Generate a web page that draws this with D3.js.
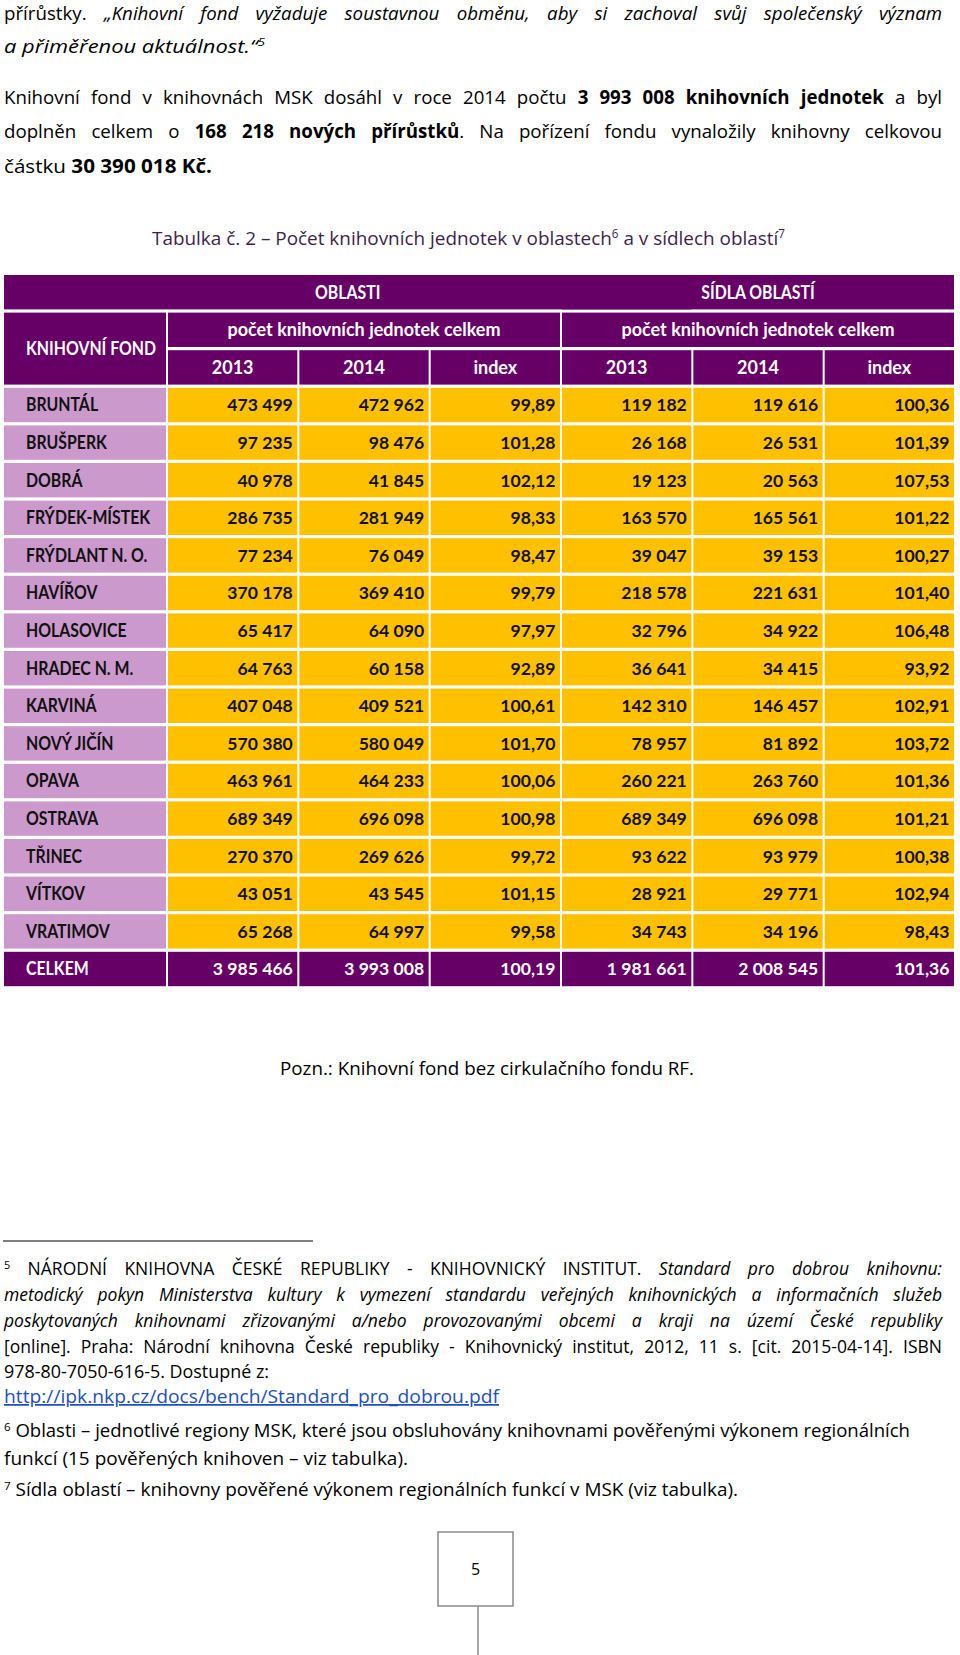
<!DOCTYPE html>
<html><head><meta charset="utf-8">
<script src="https://cdn.jsdelivr.net/npm/d3@7"></script>
<style>body{margin:0;background:#fff}svg{display:block}</style>
</head><body>
<svg id="page" width="960" height="1655"></svg>
<script>
// ---------- DATA ----------
const regions = ["BRUNTÁL","BRUŠPERK","DOBRÁ","FRÝDEK-MÍSTEK","FRÝDLANT N. O.","HAVÍŘOV","HOLASOVICE","HRADEC N. M.","KARVINÁ","NOVÝ JIČÍN","OPAVA","OSTRAVA","TŘINEC","VÍTKOV","VRATIMOV"];
const oblasti2013 = [473499,97235,40978,286735,77234,370178,65417,64763,407048,570380,463961,689349,270370,43051,65268];
const oblasti2014 = [472962,98476,41845,281949,76049,369410,64090,60158,409521,580049,464233,696098,269626,43545,64997];
const oblastiIndex = [99.89,101.28,102.12,98.33,98.47,99.79,97.97,92.89,100.61,101.70,100.06,100.98,99.72,101.15,99.58];
const sidla2013 = [119182,26168,19123,163570,39047,218578,32796,36641,142310,78957,260221,689349,93622,28921,34743];
const sidla2014 = [119616,26531,20563,165561,39153,221631,34922,34415,146457,81892,263760,696098,93979,29771,34196];
const sidlaIndex = [100.36,101.39,107.53,101.22,100.27,101.40,106.48,93.92,102.91,103.72,101.36,101.21,100.38,102.94,98.43];
const totalLabel = "CELKEM";
const totalValues = [3985466,3993008,100.19,1981661,2008545,101.36];
const groupHeaders = ["OBLASTI","SÍDLA OBLASTÍ"];
const subHeader = "počet knihovních jednotek celkem";
const yearHeaders = ["2013","2014","index","2013","2014","index"];
const rowHeader = "KNIHOVNÍ FOND";

// ---------- STYLE ----------
const FONT = "'Open Sans', 'Noto Sans', sans-serif";
const TFONT = "Lato, 'Open Sans', sans-serif";
const PURPLE = "#660066", LILAC = "#cc99cc", GOLD = "#ffc000";
const svg = d3.select("#page");
const loc = d3.formatLocale({decimal:",", thousands:" ", grouping:[3], currency:["",""]});
const fInt = loc.format(",d"), fIdx = loc.format(",.2f");

// text line helper (segments: {t, s}) s: i=italic b=bold ^=superscript u=link
function line(x, y, segs, o) {
  const t = svg.append("text").attr("x", x).attr("y", y)
    .attr("font-family", FONT).attr("fill", o.fill || "#000")
    .attr("font-size", o.size).style("white-space", "pre");
  if (o.anchor) t.attr("text-anchor", o.anchor);
  let shifted = 0;
  segs.forEach(s => {
    const ts = t.append("tspan").text(s.t);
    const st = s.s || "";
    if (st.includes("i")) ts.attr("font-style", "italic");
    if (st.includes("b")) ts.attr("font-weight", "bold");
    if (st.includes("u")) ts.attr("fill", "#1f4fbf").attr("text-decoration", "underline");
    if (st.includes("^")) {
      const d = -o.size * 0.36;
      ts.attr("font-size", o.size * 0.62).attr("dy", d - shifted); shifted = d;
    } else if (shifted) { ts.attr("dy", -shifted); shifted = 0; }
  });
  if (o.width) t.attr("textLength", o.width).attr("lengthAdjust", "spacingAndGlyphs");
  if (o.justify) {
    const w = t.node().getComputedTextLength();
    const n = segs.map(s => s.t).join("").split(" ").length - 1;
    if (n > 0) t.attr("word-spacing", (o.justify - x - w) / n);
  }
  return t;
}

// ---------- BODY TEXT ----------
const BS = 18.7, R = 942;
line(4, 20, [{t:"přírůstky. "},{t:"„Knihovní fond vyžaduje soustavnou obměnu, aby si zachoval svůj společenský význam", s:"i"}], {size:BS, justify:R});
line(4, 53, [{t:"a přiměřenou aktuálnost.“", s:"i"},{t:"5", s:"i^"}], {size:BS, width:261});
line(4, 104, [{t:"Knihovní fond v knihovnách MSK dosáhl v roce 2014 počtu "},{t:"3 993 008 knihovních jednotek", s:"b"},{t:" a byl"}], {size:BS, justify:R});
line(4, 138, [{t:"doplněn celkem o "},{t:"168 218 nových přírůstků", s:"b"},{t:". Na pořízení fondu vynaložily knihovny celkovou"}], {size:BS, justify:R});
line(4, 173, [{t:"částku "},{t:"30 390 018 Kč.", s:"b"}], {size:BS, width:208});

// title
line(152, 245, [{t:"Tabulka č. 2 – Počet knihovních jednotek v oblastech"},{t:"6", s:"^"},{t:" a v sídlech oblastí"},{t:"7", s:"^"}], {size:19, width:633, fill:"#3e1f4c"});

// ---------- TABLE ----------
const nRows = 19;
const y = d3.scaleBand().domain(d3.range(nRows)).range([275, 275 + nRows * 37.6]);
const x = d3.scaleBand().domain(d3.range(6)).range([168, 956]);
const GAP = 2, VGAP = 3.2;
const X0 = 4;
const cellH = y.bandwidth() - VGAP, cellW = x.bandwidth() - GAP;
const TS = 18, NS = 17.6, CAPSQ = 0.88;
const tbl = svg.append("g");

function rect(x0, y0, w, h, fill) {
  tbl.append("rect").attr("x", x0).attr("y", y0).attr("width", w).attr("height", h).attr("fill", fill);
}
function txt(xp, yp, s, fill, anchor, size, squeeze) {
  const t = tbl.append("text").attr("x", xp).attr("y", yp).attr("font-family", TFONT).attr("font-size", size || TS)
    .attr("font-weight", "bold").attr("fill", fill).attr("text-anchor", anchor).text(s);
  if (squeeze) t.attr("textLength", t.node().getComputedTextLength() * squeeze).attr("lengthAdjust", "spacingAndGlyphs");
}
const mid = i => y(i) + cellH / 2 + 6.3;

// header row 0
rect(X0, y(0), x(3) + cellW - X0, cellH, PURPLE);
txt((X0 + x(3) + cellW) / 2, mid(0), groupHeaders[0], "#fff", "middle", TS, CAPSQ);
rect(x(3), y(0), x(5) + cellW - x(3), cellH, PURPLE);
txt((x(3) + x(5) + cellW) / 2, mid(0), groupHeaders[1], "#fff", "middle", TS, CAPSQ);
// row header
rect(X0, y(1), x(0) - GAP - X0, y(2) + cellH - y(1), PURPLE);
txt(26, (y(1) + y(2) + cellH) / 2 + 6.3, rowHeader, "#fff", "start", TS, CAPSQ);
// sub headers
[0, 3].forEach(c => {
  rect(x(c), y(1), x(c + 2) + cellW - x(c), cellH, PURPLE);
  txt((x(c) + x(c + 2) + cellW) / 2, mid(1), subHeader, "#fff", "middle");
});
yearHeaders.forEach((h, c) => {
  rect(x(c), y(2), cellW, cellH, PURPLE);
  txt(x(c) + cellW / 2, mid(2), h, "#fff", "middle");
});

// data rows
const cols = [oblasti2013, oblasti2014, oblastiIndex, sidla2013, sidla2014, sidlaIndex];
const fmts = [fInt, fInt, fIdx, fInt, fInt, fIdx];
regions.forEach((r, i) => {
  const ri = i + 3;
  rect(X0, y(ri), x(0) - GAP - X0, cellH, LILAC);
  txt(26, mid(ri), r, "#111", "start", TS, CAPSQ);
  cols.forEach((col, c) => {
    rect(x(c), y(ri), cellW, cellH, GOLD);
    txt(x(c) + cellW - 4.5, mid(ri), fmts[c](col[i]), "#111", "end", NS);
  });
});
// total row
const tr = 18;
rect(X0, y(tr), x(0) - GAP - X0, cellH, PURPLE);
txt(26, mid(tr), totalLabel, "#fff", "start", TS, CAPSQ);
totalValues.forEach((v, c) => {
  rect(x(c), y(tr), cellW, cellH, PURPLE);
  txt(x(c) + cellW - 4.5, mid(tr), fmts[c](v), "#fff", "end", NS);
});

// note
line(487, 1075, [{t:"Pozn.: Knihovní fond bez cirkulačního fondu RF."}], {size:BS, anchor:"middle", width:414});

// ---------- FOOTNOTES ----------
svg.append("line").attr("x1", 3).attr("x2", 313).attr("y1", 1241).attr("y2", 1241).attr("stroke", "#000").attr("stroke-width", 1.2);
const FS = 17.5;
line(4, 1275, [{t:"5", s:"^"},{t:" NÁRODNÍ KNIHOVNA ČESKÉ REPUBLIKY - KNIHOVNICKÝ INSTITUT. "},{t:"Standard pro dobrou knihovnu:", s:"i"}], {size:FS, justify:R});
line(4, 1301, [{t:"metodický pokyn Ministerstva kultury k vymezení standardu veřejných knihovnických a informačních služeb", s:"i"}], {size:FS, justify:R});
line(4, 1327, [{t:"poskytovaných knihovnami zřizovanými a/nebo provozovanými obcemi a kraji na území České republiky", s:"i"}], {size:FS, justify:R});
line(4, 1353, [{t:"[online]. Praha: Národní knihovna České republiky - Knihovnický institut, 2012, 11 s. [cit. 2015-04-14]. ISBN"}], {size:FS, justify:R});
line(4, 1378, [{t:"978-80-7050-616-5. Dostupné z:"}], {size:FS, width:265});
line(4, 1403, [{t:"http://ipk.nkp.cz/docs/bench/Standard_pro_dobrou.pdf", s:"u"}], {size:FS, width:495});
line(4, 1437, [{t:"6", s:"^"},{t:" Oblasti – jednotlivé regiony MSK, které jsou obsluhovány knihovnami pověřenými výkonem regionálních"}], {size:FS, width:906});
line(4, 1465, [{t:"funkcí (15 pověřených knihoven – viz tabulka)."}], {size:FS, width:404});
line(4, 1496, [{t:"7", s:"^"},{t:" Sídla oblastí – knihovny pověřené výkonem regionálních funkcí v MSK (viz tabulka)."}], {size:FS, width:734});

// page number box
svg.append("line").attr("x1", 478).attr("x2", 478).attr("y1", 1606).attr("y2", 1655).attr("stroke", "#8a8a8a").attr("stroke-width", 1.5);
svg.append("rect").attr("x", 438).attr("y", 1532).attr("width", 75).attr("height", 74).attr("fill", "#fff").attr("stroke", "#8a8a8a").attr("stroke-width", 1.5);
line(475.5, 1575, [{t:"5"}], {size:16, anchor:"middle"});
</script>
</body></html>
